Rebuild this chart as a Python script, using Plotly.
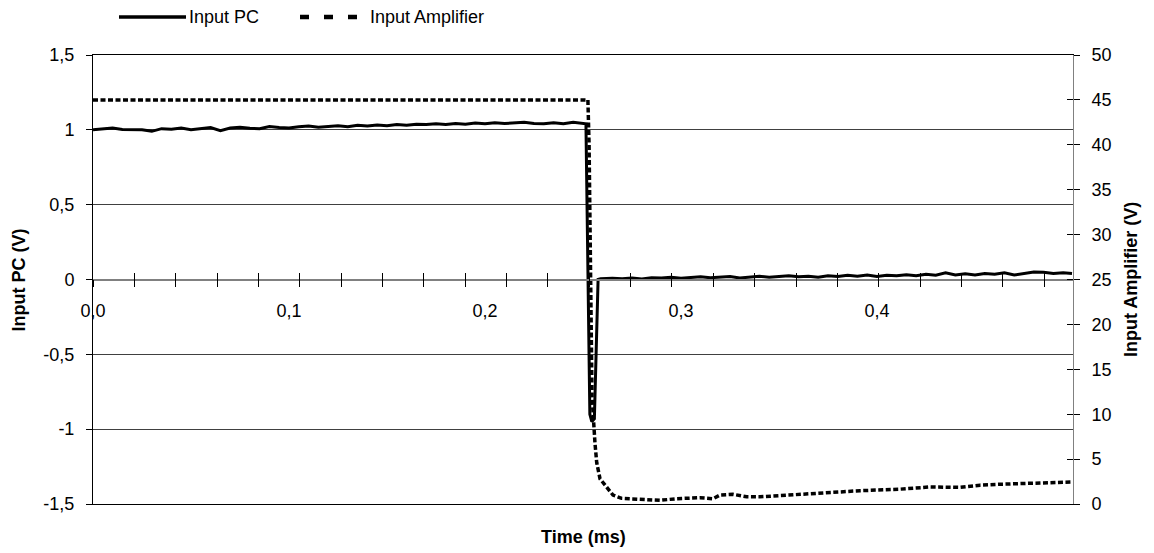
import plotly.graph_objects as go

# ---------------- data ----------------
pc_time = [0.000, 0.005, 0.010, 0.015, 0.020, 0.025, 0.030, 0.035, 0.040, 0.045,
           0.050, 0.055, 0.060, 0.065, 0.070, 0.075, 0.080, 0.085, 0.090, 0.095,
           0.100, 0.105, 0.110, 0.115, 0.120, 0.125, 0.130, 0.135, 0.140, 0.145,
           0.150, 0.155, 0.160, 0.165, 0.170, 0.175, 0.180, 0.185, 0.190, 0.195,
           0.200, 0.205, 0.210, 0.215, 0.220, 0.225, 0.230, 0.235, 0.240, 0.245,
           0.250, 0.2515, 0.2535, 0.2545, 0.2558, 0.2577, 0.2590,
           0.265, 0.270, 0.275, 0.280, 0.285, 0.290, 0.295, 0.300, 0.305, 0.310,
           0.315, 0.320, 0.325, 0.330, 0.335, 0.340, 0.345, 0.350, 0.355, 0.360,
           0.365, 0.370, 0.375, 0.380, 0.385, 0.390, 0.395, 0.400, 0.405, 0.410,
           0.415, 0.420, 0.425, 0.430, 0.435, 0.440, 0.445, 0.450, 0.455, 0.460,
           0.465, 0.470, 0.475, 0.480, 0.485, 0.490, 0.495, 0.4995]
pc_volt = [1.000, 1.005, 1.012, 1.003, 1.000, 1.001, 0.990, 1.008, 1.004, 1.012,
           1.000, 1.010, 1.015, 0.995, 1.012, 1.018, 1.010, 1.008, 1.022, 1.015,
           1.012, 1.020, 1.025, 1.018, 1.022, 1.028, 1.020, 1.030, 1.025, 1.032,
           1.028, 1.035, 1.030, 1.038, 1.035, 1.040, 1.035, 1.042, 1.038, 1.045,
           1.040, 1.048, 1.042, 1.045, 1.050, 1.043, 1.040, 1.048, 1.040, 1.050,
           1.045, 1.040, -0.900, -0.950, -0.930, 0.000, 0.005,
           0.008, 0.005, 0.010, 0.003, 0.012, 0.010, 0.015, 0.008, 0.013, 0.018,
           0.012, 0.015, 0.020, 0.010, 0.018, 0.022, 0.015, 0.020, 0.025, 0.018,
           0.022, 0.015, 0.025, 0.020, 0.028, 0.022, 0.030, 0.020, 0.028, 0.025,
           0.032, 0.025, 0.035, 0.028, 0.045, 0.030, 0.038, 0.030, 0.040, 0.035,
           0.045, 0.030, 0.038, 0.050, 0.048, 0.040, 0.045, 0.040]

amp_time = [0.000, 0.2525, 0.2531, 0.2546, 0.2561, 0.2570, 0.2587, 0.2621, 0.2653,
            0.2697, 0.2774, 0.2893, 0.2978, 0.3097, 0.3163, 0.3199, 0.3265, 0.3335,
            0.3403, 0.3488, 0.3571, 0.3673, 0.3743, 0.3845, 0.3913, 0.4117, 0.4270,
            0.4423, 0.4526, 0.4628, 0.4780, 0.4908, 0.4995]
amp_volt = [45.0, 45.0, 40.0, 12.0, 6.8, 4.6, 2.8, 1.8, 1.0,
            0.63, 0.52, 0.41, 0.59, 0.70, 0.59, 1.00, 1.08, 0.81,
            0.80, 0.92, 1.00, 1.19, 1.26, 1.37, 1.48, 1.65, 1.90,
            1.85, 2.10, 2.20, 2.30, 2.40, 2.45]

x_label_vals = [0.0, 0.1, 0.2, 0.3, 0.4]
x_label_text = ["0,0", "0,1", "0,2", "0,3", "0,4"]
pc_tick_vals = [-1.5, -1.0, -0.5, 0.0, 0.5, 1.0, 1.5]
pc_tick_text = ["-1,5", "-1", "-0,5", "0", "0,5", "1", "1,5"]
amp_tick_vals = [0, 5, 10, 15, 20, 25, 30, 35, 40, 45, 50]

# ---------------- figure ----------------
FONT = "Liberation Sans, Arial, sans-serif"
FS = 18
minor_step = 0.0211
minor_ticks = [k * minor_step for k in range(24)]

fig = go.Figure()
# empty helper traces so that the overlay axes get drawn
for xa, ya in [("x2", "y"), ("x3", "y"), ("x4", "y"), ("x", "y3")]:
    fig.add_trace(go.Scatter(x=[None], y=[None], mode="lines", xaxis=xa, yaxis=ya,
                             showlegend=False, hoverinfo="skip"))

fig.add_trace(go.Scatter(x=pc_time, y=pc_volt, mode="lines", name="Input PC",
                         line=dict(color="black", width=3), xaxis="x", yaxis="y",
                         showlegend=False))
fig.add_trace(go.Scatter(x=amp_time, y=amp_volt, mode="lines", name="Input Amplifier",
                         line=dict(color="black", width=3.5, dash="5px,2.5px"),
                         xaxis="x", yaxis="y2", showlegend=False))

XR = [0, 0.5]
common_x = dict(range=XR, showgrid=False, zeroline=False, fixedrange=True)

fig.update_layout(
    width=1154, height=553,
    margin=dict(l=93, r=81, t=55, b=49),
    paper_bgcolor="white", plot_bgcolor="white",
    font=dict(family=FONT, size=FS, color="black"),
    # x axis crossing at y = 0 : line + downward ticks
    xaxis=dict(**common_x, anchor="free", position=0.5,
               showline=True, linecolor="#808080", linewidth=1.5,
               tickmode="array", tickvals=minor_ticks, ticks="outside",
               ticklen=7, tickwidth=1, tickcolor="black", showticklabels=False),
    # upward half of the crossing ticks
    xaxis3=dict(**common_x, overlaying="x", anchor="free", position=0.5,
                showline=False, tickmode="array", tickvals=minor_ticks,
                ticks="inside", ticklen=7, tickwidth=1, tickcolor="black",
                showticklabels=False),
    # tick labels
    xaxis2=dict(**common_x, overlaying="x", anchor="free", position=0.5,
                showline=False, tickmode="array", tickvals=x_label_vals,
                ticktext=x_label_text, ticks="", ticklabelstandoff=18,
                tickfont=dict(family=FONT, size=FS, color="black")),
    # frame lines at top and bottom
    xaxis4=dict(**common_x, overlaying="x", anchor="y", side="bottom",
                showline=True, mirror=True, linecolor="black", linewidth=1,
                ticks="", showticklabels=False),
    yaxis=dict(range=[-1.5, 1.5], tickmode="array", tickvals=pc_tick_vals,
               ticktext=pc_tick_text, showgrid=True, gridcolor="#404040",
               gridwidth=1, zeroline=False, showline=True, linecolor="black",
               linewidth=1, ticks="outside", ticklen=6, tickcolor="black",
               ticklabelstandoff=8, fixedrange=True),
    yaxis2=dict(range=[0, 50], overlaying="y", side="right", anchor="x",
                tickmode="array", tickvals=amp_tick_vals, showgrid=False,
                zeroline=False, showline=True, linecolor="#808080", linewidth=1,
                ticks="outside", ticklen=6, tickcolor="black",
                ticklabelstandoff=8, fixedrange=True),
    yaxis3=dict(range=[0, 50], overlaying="y", side="right", anchor="x",
                tickmode="array", tickvals=amp_tick_vals, showgrid=False,
                zeroline=False, showline=False, ticks="inside", ticklen=6,
                tickcolor="black", showticklabels=False, fixedrange=True),
    showlegend=False,
)

# manual legend (line samples + labels)
def px_x(px):
    return (px - 93) / 980.0

def px_y(py):
    return (504 - py) / 449.0

ly = px_y(17)
fig.add_shape(type="line", xref="paper", yref="paper", x0=px_x(119), x1=px_x(186),
              y0=ly, y1=ly, line=dict(color="black", width=3.5))
fig.add_shape(type="line", xref="paper", yref="paper", x0=px_x(300), x1=px_x(358),
              y0=ly, y1=ly, line=dict(color="black", width=4.5, dash="9px,15px"))
fig.add_annotation(text="Input PC", xref="paper", yref="paper", x=px_x(187), y=ly,
                   xanchor="left", yanchor="middle", showarrow=False,
                   font=dict(family=FONT, size=FS, color="black"))
fig.add_annotation(text="Input Amplifier", xref="paper", yref="paper", x=px_x(368), y=ly,
                   xanchor="left", yanchor="middle", showarrow=False,
                   font=dict(family=FONT, size=FS, color="black"))

# axis titles
fig.add_annotation(text="<b>Input PC (V)</b>", xref="paper", yref="paper",
                   x=px_x(18.5), y=px_y(280), textangle=-90, xanchor="center",
                   yanchor="middle", showarrow=False,
                   font=dict(family=FONT, size=FS, color="black"))
fig.add_annotation(text="<b>Input Amplifier (V)</b>", xref="paper", yref="paper",
                   x=px_x(1131), y=px_y(280), textangle=-90, xanchor="center",
                   yanchor="middle", showarrow=False,
                   font=dict(family=FONT, size=FS, color="black"))
fig.add_annotation(text="<b>Time (ms)</b>", xref="paper", yref="paper",
                   x=0.5, y=px_y(537), xanchor="center", yanchor="middle",
                   showarrow=False, font=dict(family=FONT, size=FS, color="black"))

fig.write_html("out.html")
